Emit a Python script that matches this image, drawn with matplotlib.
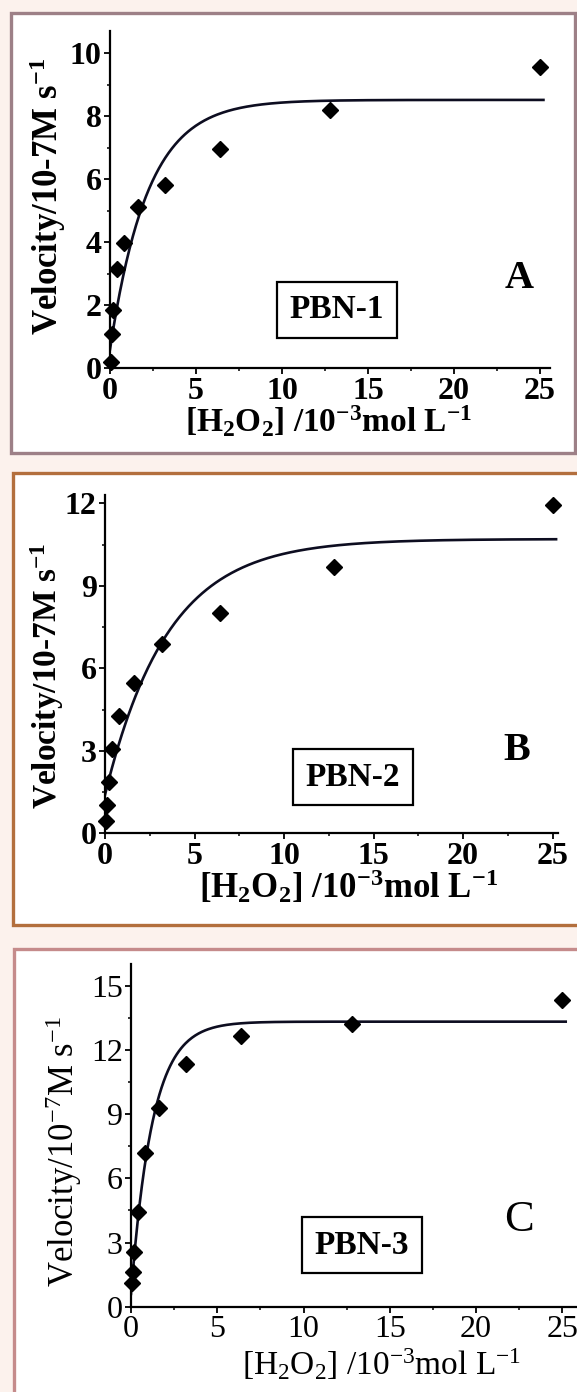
import numpy as np
import matplotlib.pyplot as plt
from matplotlib.patches import Rectangle
from matplotlib.ticker import MultipleLocator

plt.rcParams['font.family'] = ['Liberation Serif', 'DejaVu Serif']
plt.rcParams['mathtext.fontset'] = 'custom'
plt.rcParams['mathtext.rm'] = 'Liberation Serif'
plt.rcParams['mathtext.it'] = 'Liberation Serif:italic'
plt.rcParams['mathtext.bf'] = 'Liberation Serif:bold'

# H2O2 concentrations (10^-3 mol/L) and measured initial velocities (10^-7 M/s)
conc = [0.05, 0.1, 0.2, 0.4, 0.8, 1.6, 3.2, 6.4, 12.8, 25]
vel_pbn1 = [0.2, 1.1, 1.85, 3.14, 3.97, 5.13, 5.82, 6.95, 8.2, 9.55]
vel_pbn2 = [0.45, 1.03, 1.88, 3.06, 4.27, 5.48, 6.9, 8.0, 9.7, 11.95]
vel_pbn3 = [1.09, 1.64, 2.55, 4.43, 7.17, 9.3, 11.34, 12.65, 13.2, 14.35]

# fitted saturation curves  v = vmax - (vmax - v0) * exp(-c / k)
fit_pbn1 = dict(vmax=8.52, v0=0.6, k=2.2)
fit_pbn2 = dict(vmax=10.7, v0=1.4, k=3.5)
fit_pbn3 = dict(vmax=13.32, v0=0.6, k=1.25)

samples = ['PBN-1', 'PBN-2', 'PBN-3']
panel_tags = ['A', 'B', 'C']
y_major = [2, 3, 3]
y_top = [10.7, 12.3, 16.0]

W, H = 577, 1392
fig = plt.figure(figsize=(W / 100, H / 100), dpi=100)
fig.patch.set_facecolor('#fcf2ed')


def fx(px):
    return px / W


def fy(py):
    return 1 - py / H


# panel frames (pixel boxes) and axes placement
frames = [((11, 13, 575, 453), '#9d8087'),
          ((13, 473, 582, 925), '#b36f3d'),
          ((14, 949, 582, 1405), '#c58b8b')]
# x0 px, y0 px, px per x unit, px per y unit, xmax
axes_px = [(110, 368.3, 17.2, 31.5, 25.6),
           (105, 833.3, 17.9, 27.5, 25.3),
           (131, 1306.7, 17.25, 21.4, 25.8)]

for (x0, y0, x1, y1), col in frames:
    fig.patches.append(Rectangle((fx(x0), fy(y1)), (x1 - x0) / W, (y1 - y0) / H,
                                 transform=fig.transFigure, facecolor='white',
                                 edgecolor=col, linewidth=2.4, zorder=-5))

vels = [vel_pbn1, vel_pbn2, vel_pbn3]
fits = [fit_pbn1, fit_pbn2, fit_pbn3]
bold = ['bold', 'bold', 'normal']

for i in range(3):
    px0, py0, sx, sy, xmax = axes_px[i]
    ymax = y_top[i]
    ax = fig.add_axes([fx(px0), fy(py0), xmax * sx / W, ymax * sy / H])
    ax.set_zorder(2)
    ax.set_facecolor('none')

    f = fits[i]
    cc = np.linspace(0, 25.2, 400)
    ax.plot(cc, f['vmax'] - (f['vmax'] - f['v0']) * np.exp(-cc / f['k']),
            color='#0d0d20', lw=1.9, zorder=2)
    ax.plot(conc, vels[i], 'D', color='black', ms=8.5, clip_on=False, zorder=3)

    for s in ['top', 'right']:
        ax.spines[s].set_visible(False)
    for s in ['left', 'bottom']:
        ax.spines[s].set_linewidth(1.6)
    ax.set_xticks(np.arange(0, 26, 5))
    ax.set_xticklabels([f'{t}' for t in range(0, 26, 5)], fontweight=bold[i])
    yt = np.arange(0, ymax + 0.01, y_major[i])
    ax.set_yticks(yt)
    ax.set_yticklabels([f'{int(t)}' for t in yt], fontweight=bold[i])
    ax.xaxis.set_minor_locator(MultipleLocator(2.5))
    ax.yaxis.set_minor_locator(MultipleLocator(y_major[i] / 2))
    ax.tick_params(which='major', direction='out', length=4, width=1.3,
                   labelsize=23, pad=2)
    ax.tick_params(which='minor', direction='out', length=2.5, width=1.1)
    ax.set_xlim(0, xmax)
    ax.set_ylim(0, ymax)

    # sample name box and panel letter
    bx, by = [(337, 310), (353, 777), (362, 1245)][i]
    fig.text(fx(bx), fy(by), samples[i], fontsize=24, fontweight='bold',
             ha='center', va='center', zorder=3,
             bbox=dict(boxstyle='square,pad=0.38', facecolor='white',
                       edgecolor='black', linewidth=1.6))
    lx, ly = [(519, 278), (517, 750), (519, 1220)][i]
    fig.text(fx(lx), fy(ly), panel_tags[i], fontsize=[29, 29, 32][i],
             fontweight=bold[i], ha='center', va='center')

# axis titles
ylab_b = r'Velocity/10-7M s$^{\mathbf{-1}}$'
xlab_b = (r'[H$_{\mathbf{2}}$O$_{\mathbf{2}}$] /10$^{\mathbf{-3}}$mol '
          r'L$^{\mathbf{-1}}$')
ylab_r = r'Velocity/10$^{-7}$M s$^{-1}$'
xlab_r = r'[H$_2$O$_2$] /10$^{-3}$mol L$^{-1}$'

fig.text(fx(48), fy(197), ylab_b, rotation=90, fontsize=25, fontweight='bold',
         ha='center', va='center')
fig.text(fx(47), fy(676), ylab_b, rotation=90, fontsize=24, fontweight='bold',
         ha='center', va='center')
fig.text(fx(64), fy(1152), ylab_r, rotation=90, fontsize=25,
         ha='center', va='center')
fig.text(fx(329), fy(421), xlab_b, fontsize=24, fontweight='bold',
         ha='center', va='center')
fig.text(fx(348), fy(887), xlab_b, fontsize=25, fontweight='bold',
         ha='center', va='center')
fig.text(fx(382), fy(1364), xlab_r, fontsize=24, ha='center', va='center')

fig.savefig('out.png', dpi=100, facecolor=fig.get_facecolor())
